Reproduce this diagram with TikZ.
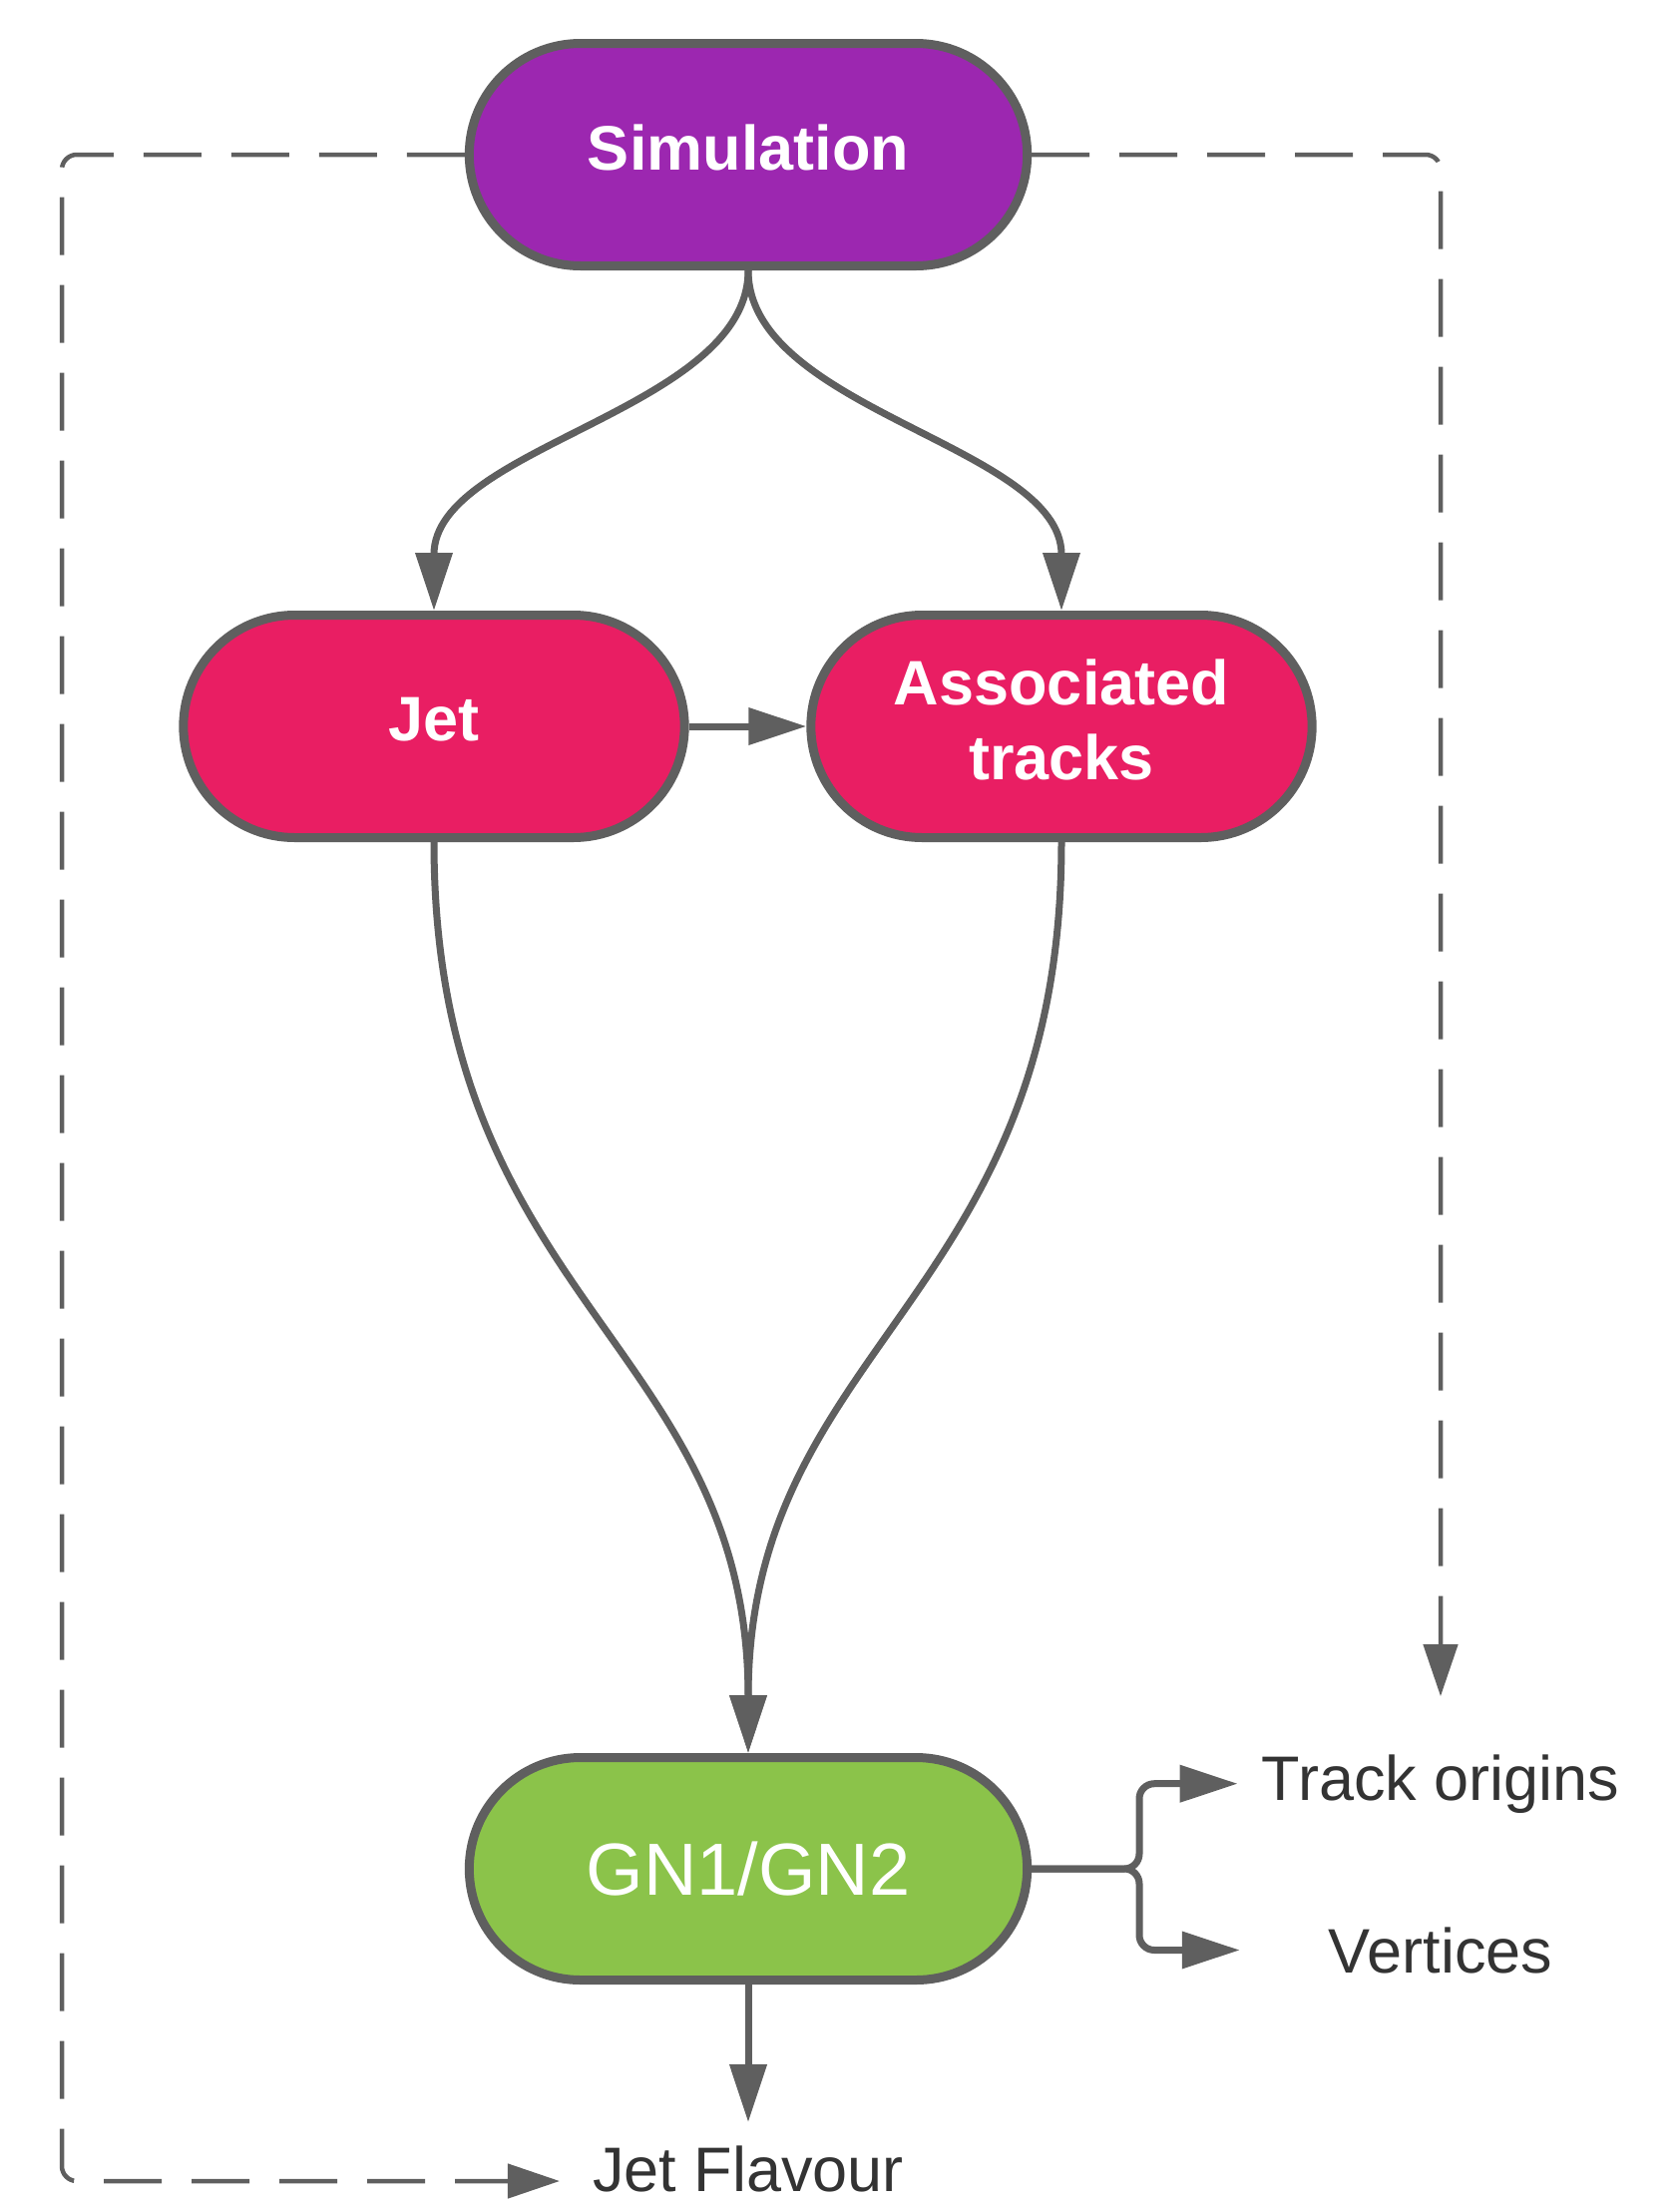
\documentclass[tikz,border=0pt]{standalone}
\usepackage{fontspec}
\setmainfont{Liberation Sans}
\usetikzlibrary{arrows.meta,shapes.misc}
\definecolor{simpurple}{RGB}{156,39,176}
\definecolor{objpink}{RGB}{233,30,99}
\definecolor{netgreen}{RGB}{139,195,74}
\definecolor{wire}{RGB}{95,95,95}
\definecolor{labelgrey}{RGB}{51,51,51}

\tikzset{
	stage/.style={rounded rectangle, draw=wire, line width=9pt, minimum width=566pt, minimum height=223pt, text=white, align=center, text depth=14pt, font=\fontsize{63}{75}\selectfont\bfseries},
	conn/.style={draw=wire, line width=7pt, -{Triangle[length=58pt,width=36pt]}},
	truth/.style={draw=wire, line width=4.5pt, dash pattern=on 58pt off 30pt, rounded corners=15pt, -{Triangle[length=52pt,width=34pt]}},
	outlabel/.style={inner sep=0pt, text=labelgrey, font=\fontsize{63}{75}\selectfont},
}

\begin{document}
\begin{tikzpicture}[x=1pt,y=1pt,yscale=-1,xscale=1]
	\useasboundingbox (0,0) rectangle (1684,2212);
	\node[stage, fill=simpurple] (sim) at (750,155) {Simulation};
	\node[stage, fill=objpink, minimum width=509pt] (jet) at (435,728) {Jet};
	\node[stage, fill=objpink, minimum width=509pt] (trk) at (1064,728) {Associated\\tracks};
	\node[stage, fill=netgreen, text depth=0pt, font=\fontsize{74}{80}\selectfont] (gn) at (750,1873) {GN1/GN2};
	\node[outlabel, anchor=base] (flav) at (750,2196) {Jet Flavour};
	\node[outlabel, anchor=base] (orig) at (1444,1804) {Track origins};
	\node[outlabel, anchor=base] (vtx) at (1444,1977) {Vertices};
	\coordinate (fork) at (1142,1873);
	\coordinate (rail) at (62,1000);

	\draw[conn] (sim.south) .. controls +(0,140) and +(0,-165) .. (jet.north);
	\draw[conn] (sim.south) .. controls +(0,140) and +(0,-165) .. (trk.north);
	\draw[conn] (jet.east) -- (trk.west);
	\draw[conn] (jet.south) .. controls +(0,460) and +(0,-410) .. (gn.north);
	\draw[conn] (trk.south) .. controls +(0,460) and +(0,-410) .. (gn.north);
	\draw[conn, shorten >=23pt] (gn.south) -- (flav.north);
	\draw[conn, rounded corners=15pt, shorten >=24pt] (gn.east) -- (fork) |- (orig.west);
	\draw[conn, rounded corners=15pt, shorten >=89pt] (gn.east) -- (fork) |- (vtx.west);

	\draw[truth, shorten >=33pt] (sim.west) -| (rail) |- ([yshift=-10pt]flav.base west);
	\draw[truth, shorten >=58pt] (sim.east) -| (orig.north);
\end{tikzpicture}
\end{document}
